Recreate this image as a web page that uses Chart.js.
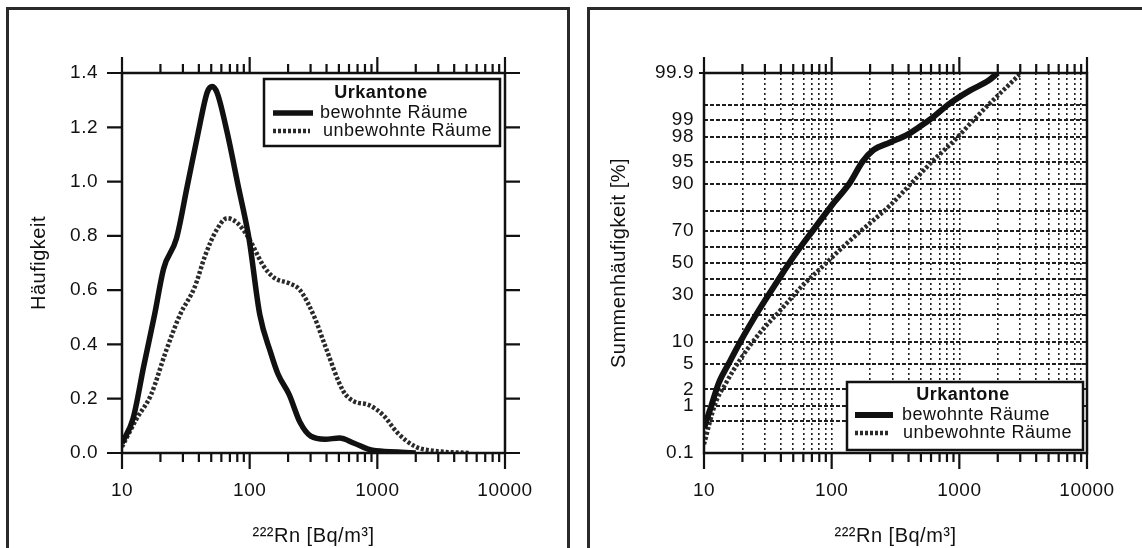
<!DOCTYPE html>
<html><head><meta charset="utf-8">
<script src="https://cdn.jsdelivr.net/npm/chart.js@4.4.1/dist/chart.umd.min.js"></script>
<style>
html,body{margin:0;padding:0;background:#fff;width:1142px;height:548px;overflow:hidden;}
#wrap{position:relative;width:1142px;height:548px;}
canvas{position:absolute;top:0;}
#c1{left:0;} #c2{left:578px;}
.frame{position:absolute;border:3px solid #2a2a2a;box-sizing:border-box;}
</style></head><body>
<div id="wrap">
<div class="frame" style="left:6px;top:7px;width:564px;height:580px;"></div>
<div class="frame" style="left:587px;top:7px;width:620px;height:580px;"></div>
<canvas id="c1" width="578" height="548"></canvas>
<canvas id="c2" width="564" height="548"></canvas>
</div>
<script>
// ---------- data ----------
const xTickValues = [10,20,30,40,50,60,70,80,90,100,200,300,400,500,600,700,800,900,1000,2000,3000,4000,5000,6000,7000,8000,9000,10000];
const xMajorTicks = [10,100,1000,10000];
const densTickValues = [0,0.2,0.4,0.6,0.8,1.0,1.2,1.4];

// left panel: frequency density
const densBewX = [10,12.2,14.8,18,21.2,26.7,32.5,39.5,46.6,51,55.8,66.7,81.2,98.8,120,146,167,204,248,301,390,506,658,914,1440,2000];
const densBewY = [0.036,0.126,0.32,0.51,0.68,0.79,0.985,1.18,1.33,1.35,1.325,1.18,0.985,0.79,0.51,0.37,0.29,0.215,0.113,0.062,0.051,0.055,0.036,0.01,0.004,0];
const densUnbX = [10,13,16.9,21.9,28.5,37,45,54.8,66.7,81,98.8,128,156,204,248,322,390,541,658,857,1114,1440,2000,2780,5300];
const densUnbY = [0.023,0.126,0.215,0.37,0.51,0.61,0.73,0.82,0.865,0.845,0.79,0.69,0.645,0.625,0.60,0.50,0.395,0.228,0.19,0.177,0.139,0.074,0.023,0.008,0];

// right panel: cumulative frequency [%]
const cumBewX = [10,11.4,13,15.8,19.3,26.8,37.2,51.8,71.9,99.8,139,174,213,286,398,485,631,818,1216,1694,2000];
const cumBewP = [0.36,1.0,2.5,5.3,10.1,22,37.8,55.6,70.5,82.5,90.4,95.0,96.7,97.5,98.2,98.65,99.14,99.5,99.75,99.85,99.9];
const cumUnbX = [10,12.2,14.8,19.3,26.8,39.8,59,87.6,130,193,286,424,630,935,1295,1694,2350,2950];
const cumUnbP = [0.16,1.08,2.5,5.9,12.3,22.2,35.6,48.8,62.2,73.3,82.5,90.4,95.3,97.8,99.0,99.5,99.79,99.89];

const probGridP = [0.1,0.5,1,2,5,10,20,30,40,50,60,70,80,90,95,98,99,99.5,99.9];
const probTickLabels = ['0.1','','1','2','5','10','','30','','50','','70','','90','95','98','99','','99.9'];

const seriesLabels = ['bewohnte Räume','unbewohnte Räume'];
const legendTitle = 'Urkantone';
const xTitle = '²²²Rn [Bq/m³]';

// ---------- helpers ----------
const FONT = '"Liberation Sans", Arial, Helvetica, sans-serif';
const INK = '#111';

function probit(p){
  const a=[-3.969683028665376e+01,2.209460984245205e+02,-2.759285104469687e+02,1.383577518672690e+02,-3.066479806614716e+01,2.506628277459239e+00];
  const b=[-5.447609879822406e+01,1.615858368580409e+02,-1.556989798598866e+02,6.680131188771972e+01,-1.328068155288572e+01];
  const c=[-7.784894002430293e-03,-3.223964580411365e-01,-2.400758277161838e+00,-2.549732539343734e+00,4.374664141464968e+00,2.938163982698783e+00];
  const d=[7.784695709041462e-03,3.224671290700398e-01,2.445134137142996e+00,3.754408661907416e+00];
  const pl=0.02425, ph=1-pl; let q,r;
  if(p<pl){q=Math.sqrt(-2*Math.log(p));return (((((c[0]*q+c[1])*q+c[2])*q+c[3])*q+c[4])*q+c[5])/((((d[0]*q+d[1])*q+d[2])*q+d[3])*q+1);}
  if(p>ph){q=Math.sqrt(-2*Math.log(1-p));return -(((((c[0]*q+c[1])*q+c[2])*q+c[3])*q+c[4])*q+c[5])/((((d[0]*q+d[1])*q+d[2])*q+d[3])*q+1);}
  q=p-0.5;r=q*q;return (((((a[0]*r+a[1])*r+a[2])*r+a[3])*r+a[4])*r+a[5])*q/(((((b[0]*r+b[1])*r+b[2])*r+b[3])*r+b[4])*r+1);
}
const zMin = probit(probGridP[0]/100), zMax = probit(probGridP[probGridP.length-1]/100);

const spacing = { id:'spacing', beforeDraw(chart){ try{ chart.ctx.letterSpacing='0.5px'; }catch(e){} } };

const frameTicks = {
  id:'frameTicks',
  afterDatasetsDraw(chart, args, o){
    const ctx = chart.ctx, ca = chart.chartArea, xs = chart.scales.x, ys = chart.scales.y;
    ctx.save();
    ctx.strokeStyle = INK; ctx.lineWidth = 2.5; ctx.setLineDash([]);
    ctx.strokeRect(ca.left, ca.top, ca.right-ca.left, ca.bottom-ca.top);
    ctx.lineWidth = 2.2;
    ctx.beginPath();
    xs.ticks.forEach(t=>{
      const px = xs.getPixelForValue(t.value);
      const len = xMajorTicks.includes(t.value) ? 16 : 9;
      ctx.moveTo(px, ca.top); ctx.lineTo(px, ca.top-len);
      ctx.moveTo(px, ca.bottom); ctx.lineTo(px, ca.bottom+len);
    });
    if (o.yTicks) {
      ys.ticks.forEach(t=>{
        const py = ys.getPixelForValue(t.value);
        ctx.moveTo(ca.left-15, py); ctx.lineTo(ca.left, py);
        ctx.moveTo(ca.right, py); ctx.lineTo(ca.right+15, py);
      });
    } else {
      ctx.moveTo(ca.left-5, ca.top); ctx.lineTo(ca.left, ca.top);
    }
    ctx.stroke();
    ctx.restore();
  }
};

const boxLegend = {
  id:'boxLegend',
  afterDatasetsDraw(chart, args, o){
    const ctx = chart.ctx;
    ctx.save();
    ctx.fillStyle='#fff'; ctx.fillRect(o.x,o.y,o.w,o.h);
    ctx.lineWidth=2.5; ctx.strokeStyle=INK; ctx.setLineDash([]);
    ctx.strokeRect(o.x,o.y,o.w,o.h);
    ctx.fillStyle=INK; ctx.textBaseline='middle';
    ctx.font='bold 18px '+FONT; ctx.textAlign='center';
    ctx.fillText(legendTitle, o.titleX, o.titleY);
    ctx.font='18px '+FONT; ctx.textAlign='left';
    chart.data.datasets.forEach((ds,i)=>{
      const r=o.rows[i];
      ctx.beginPath(); ctx.setLineDash(ds.borderDash||[]); ctx.lineWidth=ds.borderWidth; ctx.strokeStyle=ds.borderColor;
      ctx.moveTo(r.x0,r.y); ctx.lineTo(r.x1,r.y); ctx.stroke();
      ctx.setLineDash([]); ctx.fillText(ds.label, r.tx, r.y);
    });
    ctx.restore();
  }
};

function xScale(showGrid){
  return {
    type:'logarithmic', min:10, max:10000,
    afterBuildTicks: s=>{ s.ticks = xTickValues.map(v=>({value:v})); },
    afterFit: s=>{ s.height = 95; },
    grid: showGrid ? {display:true, drawOnChartArea:true, drawTicks:false, lineWidth:1.6,
            color: c => (c.tick && (c.tick.value===10 || c.tick.value===10000)) ? 'rgba(0,0,0,0)' : '#1e1e1e'}
          : {display:false, drawTicks:false},
    border: showGrid ? {display:false, dash:[2,3]} : {display:false},
    ticks:{autoSkip:false, maxRotation:0, minRotation:0, padding:26, color:INK, font:{family:FONT,size:19},
      callback: v => xMajorTicks.includes(v) ? String(v) : ''},
    title:{display:true, text:xTitle, color:INK, font:{family:FONT,size:20}, padding:{top:0,bottom:0}}
  };
}

// ---------- left chart ----------
new Chart(document.getElementById('c1'), {
  type:'line',
  data:{datasets:[
    {label:seriesLabels[0], data:densBewX.map((x,i)=>({x,y:densBewY[i]})), borderColor:INK, borderWidth:5.5, pointRadius:0, cubicInterpolationMode:'monotone', fill:false},
    {label:seriesLabels[1], data:densUnbX.map((x,i)=>({x,y:densUnbY[i]})), borderColor:'#2a2a2a', borderWidth:4.5, borderDash:[3,2], pointRadius:0, cubicInterpolationMode:'monotone', fill:false}
  ]},
  options:{
    responsive:false, animation:false, devicePixelRatio:1,
    layout:{padding:{left:0,top:73,right:73,bottom:0}},
    plugins:{legend:{display:false}, tooltip:{enabled:false},
      frameTicks:{yTicks:true},
      boxLegend:{x:264,y:79,w:236,h:67,titleX:381,titleY:93,
        rows:[{x0:273,x1:313,y:113,tx:320},{x0:273,x1:310,y:131,tx:323}]}},
    scales:{
      x: xScale(false),
      y:{min:0, max:1.4,
        afterBuildTicks: s=>{ s.ticks = densTickValues.map(v=>({value:v})); },
        afterFit: s=>{ s.width = 122; },
        grid:{display:false, drawTicks:false}, border:{display:false},
        ticks:{autoSkip:false, padding:24, color:INK, font:{family:FONT,size:19}, callback:v=>Number(v).toFixed(1)},
        title:{display:true, text:'Häufigkeit', color:INK, font:{family:FONT,size:20}, padding:{top:27,bottom:0}}
      }
    }
  },
  plugins:[spacing, frameTicks, boxLegend]
});

// ---------- right chart ----------
new Chart(document.getElementById('c2'), {
  type:'line',
  data:{datasets:[
    {label:seriesLabels[0], data:cumBewX.map((x,i)=>({x,y:probit(cumBewP[i]/100)})), borderColor:INK, borderWidth:6, pointRadius:0, cubicInterpolationMode:'monotone', fill:false},
    {label:seriesLabels[1], data:cumUnbX.map((x,i)=>({x,y:probit(cumUnbP[i]/100)})), borderColor:'#2a2a2a', borderWidth:4.5, borderDash:[3,2], pointRadius:0, cubicInterpolationMode:'monotone', fill:false}
  ]},
  options:{
    responsive:false, animation:false, devicePixelRatio:1,
    layout:{padding:{left:0,top:73,right:55,bottom:0}},
    plugins:{legend:{display:false}, tooltip:{enabled:false},
      frameTicks:{yTicks:false},
      boxLegend:{x:269,y:382,w:236,h:68,titleX:385,titleY:395,
        rows:[{x0:277,x1:315,y:415,tx:324},{x0:277,x1:310,y:433,tx:325}]}},
    scales:{
      x: xScale(true),
      y:{min:zMin, max:zMax,
        afterBuildTicks: s=>{ s.ticks = probGridP.map(p=>({value:probit(p/100)})); },
        afterFit: s=>{ s.width = 126; },
        grid:{display:true, drawOnChartArea:true, drawTicks:false, lineWidth:2,
          color: c => (c.index===0 || c.index===probGridP.length-1) ? 'rgba(0,0,0,0)' : '#1e1e1e'},
        border:{display:false, dash:[4,2]},
        ticks:{autoSkip:false, padding:10, color:INK, font:{family:FONT,size:19}, callback:(v,i)=>probTickLabels[i]},
        title:{display:true, text:'Summenhäufigkeit [%]', color:INK, font:{family:FONT,size:20}, padding:{top:29,bottom:0}}
      }
    }
  },
  plugins:[spacing, frameTicks, boxLegend]
});
</script>
</body></html>
